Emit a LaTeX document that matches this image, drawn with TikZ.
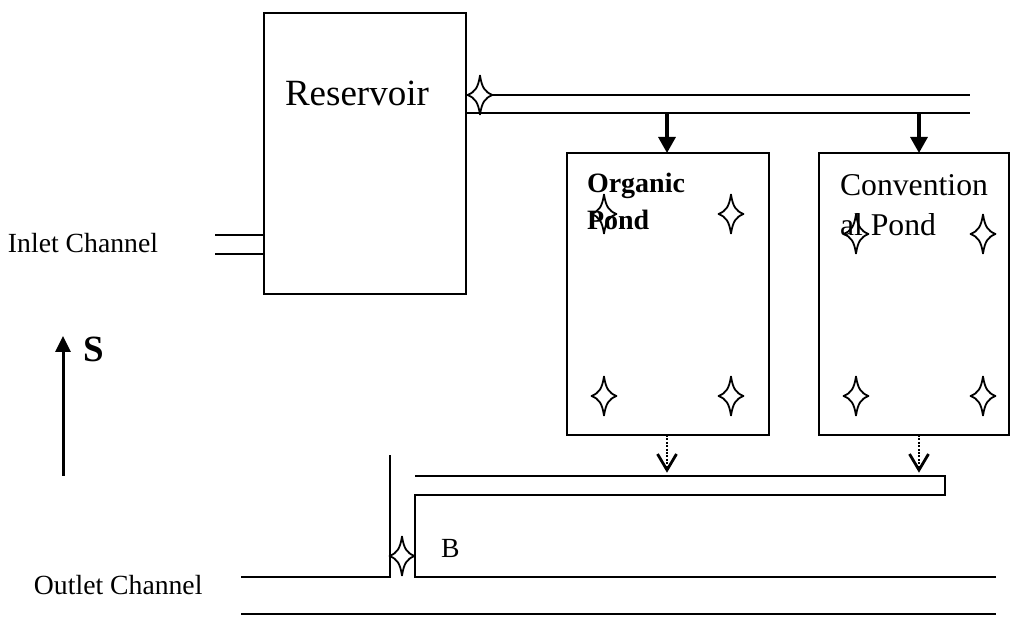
\documentclass[tikz,border=0pt]{standalone}
\usepackage{fontspec}
\setmainfont{Liberation Serif}
\usetikzlibrary{arrows.meta}
\tikzset{
  px/.style={x=1pt,y=-1pt},
  wire/.style={draw=black,line width=1.7pt},
  boxed/.style={draw=black,fill=white,line width=1.7pt,inner sep=0pt,outer sep=0pt,anchor=north west},
  sparkle/.style={draw=black,fill=white,line width=1.8pt,line join=round},
  feed/.style={draw=black,line width=3.2pt,-{Triangle[length=16pt,width=17pt]}},
  drain/.style={draw=black,line width=2.6pt,dash pattern=on 2pt off 1.4pt},
  drainhead/.style={draw=black,line width=2.8pt,line join=miter},
  north/.style={draw=black,line width=3pt,-{Triangle[length=16pt,width=15pt]}},
  label/.style={anchor=base west,inner sep=0pt,outer sep=0pt,text=black},
}
\newcommand{\sparkat}[2]{%
  \path[sparkle] (#1,#2-19.5) .. controls (#1+2,#2-7) and (#1+5,#2-3) .. (#1+12.5,#2)
    .. controls (#1+5,#2+3) and (#1+2,#2+7) .. (#1,#2+19.5)
    .. controls (#1-2,#2+7) and (#1-5,#2+3) .. (#1-12.5,#2)
    .. controls (#1-5,#2-3) and (#1-2,#2-7) .. cycle;}
\begin{document}
\begin{tikzpicture}[px]
\useasboundingbox (0,0) rectangle (1010,617);
% boxes
\node[boxed,minimum width=202pt,minimum height=281pt] (res) at (264,13) {};
\node[boxed,minimum width=202pt,minimum height=282pt] (org) at (567,153) {};
\node[boxed,minimum width=190pt,minimum height=282pt] (con) at (819,153) {};
% coordinates
\coordinate (t1a) at (466,95); \coordinate (t1b) at (970,95);
\coordinate (t2a) at (466,113); \coordinate (t2b) at (970,113);
\coordinate (i1a) at (215,235); \coordinate (i1b) at (264,235);
\coordinate (i2a) at (215,254); \coordinate (i2b) at (264,254);
\coordinate (f1) at (667,113); \coordinate (f1e) at (667,153);
\coordinate (f2) at (919,113); \coordinate (f2e) at (919,153);
\coordinate (d1) at (667,435); \coordinate (d1e) at (667,470);
\coordinate (d2) at (919,435); \coordinate (d2e) at (919,470);
\coordinate (s1) at (63,476); \coordinate (s2) at (63,336);
\coordinate (oa) at (241,577); \coordinate (ob) at (390,577); \coordinate (oc) at (390,455);
\coordinate (pa) at (415,577); \coordinate (pb) at (996,577);
\coordinate (qa) at (241,614); \coordinate (qb) at (996,614);
\coordinate (ra) at (415,495); \coordinate (rb) at (945,495); \coordinate (rc) at (945,476); \coordinate (rd) at (415,476);
% lines
\draw[wire] (t1a) -- (t1b);
\draw[wire] (t2a) -- (t2b);
\draw[wire] (i1a) -- (i1b);
\draw[wire] (i2a) -- (i2b);
\draw[wire] (oa) -- (ob) -- (oc);
\draw[wire] (pb) -- (pa) -- (ra) -- (rb) -- (rc) -- (rd);
\draw[wire] (qa) -- (qb);
% arrows
\draw[feed] (f1) -- (f1e);
\draw[feed] (f2) -- (f2e);
\draw[north] (s1) -- (s2);
\foreach \d/\e in {d1/d1e,d2/d2e}{
  \draw[drain] (\d) -- (\e);
  \draw[drainhead] (\e) ++(-9.5,-16) -- (\e) -- ++(9.5,-16);
}
% sparkles
\foreach \a/\b in {480/95,604/214,731/214,604/396,731/396,856/234,983/234,856/396,983/396,402/556}{
  \sparkat{\a}{\b}
}
% labels
\node[label,font=\fontsize{37pt}{37pt}\selectfont] (tres) at (285,106) {Reservoir};
\node[label,font=\fontsize{27.7pt}{27.7pt}\selectfont] (tin) at (8,253) {Inlet Channel};
\node[label,font=\fontsize{27.7pt}{27.7pt}\selectfont] (tout) at (34,594) {Outlet Channel};
\node[label,font=\fontsize{28pt}{28pt}\selectfont\bfseries] (torg1) at (587,193) {Organic};
\node[label,font=\fontsize{28pt}{28pt}\selectfont\bfseries] (torg2) at (587,230) {Pond};
\node[label,font=\fontsize{31.7pt}{31.7pt}\selectfont] (tcon1) at (840,196) {Convention};
\node[label,font=\fontsize{31.7pt}{31.7pt}\selectfont] (tcon2) at (840,236) {al Pond};
\node[label,font=\fontsize{37pt}{37pt}\selectfont\bfseries] (ts) at (83,362) {S};
\node[label,font=\fontsize{27.7pt}{27.7pt}\selectfont] (tb) at (441,557) {B};
\end{tikzpicture}
\end{document}
